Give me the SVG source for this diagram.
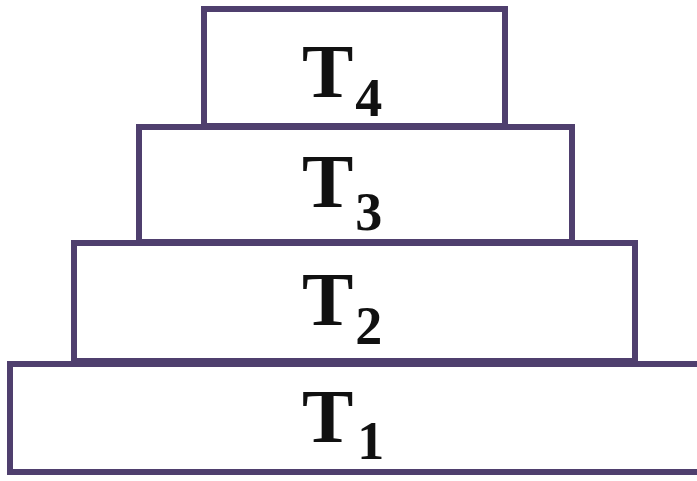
<svg xmlns="http://www.w3.org/2000/svg" width="697" height="481" viewBox="0 0 697 481">
<style>
.box{fill:#ffffff;stroke:#4f3f6e;stroke-width:6}
.t{font-family:"Liberation Serif","Times New Roman",serif;font-weight:bold;font-size:77px;fill:#111111}
.s{font-size:54px}
</style>
<rect width="697" height="481" fill="#ffffff"/>
<g id="T1"><rect class="box" x="10" y="364" width="700" height="108"/><text class="t" x="302" y="442">T<tspan class="s" dx="4" dy="17">1</tspan></text></g>
<g id="T2"><rect class="box" x="74" y="243" width="561" height="118"/><text class="t" x="302" y="325">T<tspan class="s" dx="2" dy="19">2</tspan></text></g>
<g id="T3"><rect class="box" x="139" y="127" width="433" height="115"/><text class="t" x="302" y="207">T<tspan class="s" dx="2" dy="23">3</tspan></text></g>
<g id="T4"><rect class="box" x="204" y="9" width="301" height="117"/><text class="t" x="302" y="97">T<tspan class="s" dx="2" dy="19">4</tspan></text></g>
</svg>
